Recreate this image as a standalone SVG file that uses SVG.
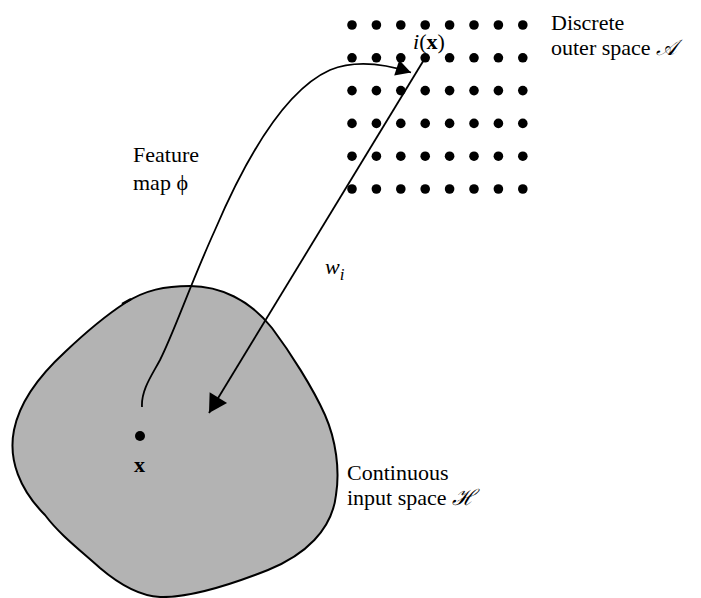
<svg xmlns="http://www.w3.org/2000/svg" width="701" height="598" viewBox="0 0 701 598">
  <style>
    .lbl { font-family: "Liberation Serif", "Times New Roman", serif; font-size: 22px; fill: #000; }
    .it { font-style: italic; }
    .bd { font-weight: bold; }
    .conn { fill: none; stroke: #000; stroke-width: 1.8; }
    .dot { fill: #000; }
  </style>
  <defs>
    <marker id="headSmall" markerUnits="userSpaceOnUse" markerWidth="20" markerHeight="20" viewBox="-14 -8 16 16" refX="0" refY="0" orient="auto">
      <path d="M0,0 L-12,-6.5 L-12,6.5 Z" fill="#000"/>
    </marker>
    <marker id="headLarge" markerUnits="userSpaceOnUse" markerWidth="24" markerHeight="24" viewBox="-17 -10 19 20" refX="0" refY="0" orient="auto">
      <path d="M0,0 L-15,-8.5 L-15,8.5 Z" fill="#000"/>
    </marker>
    <circle id="gp" r="4.8" class="dot"/>
  </defs>

  <!-- continuous input space -->
  <g id="input-space">
    <path d="M 125 303 C 145 290 165 286 190 286 C 220 286 250 300 272 328 C 290 352 313 388 325 415 C 336 440 340 470 336 495 C 332 530 305 555 268 570 C 230 585 190 598 160 597 C 140 596 120 585 100 568 C 80 550 60 535 45 515 C 20 490 8 460 14 430 C 20 400 40 375 65 352 C 85 333 105 316 125 303 Z" fill="#b3b3b3" stroke="#000" stroke-width="2"/>
    <path d="M 122 304 L 131 299" stroke="#000" stroke-width="2.4" fill="none"/>
    <circle cx="140" cy="436" r="5"/>
    <text class="lbl bd" x="134" y="472" font-size="25">x</text>
    <text class="lbl" x="347" y="480">Continuous</text>
    <text class="lbl" x="347" y="505">input space <tspan class="it">ℋ</tspan></text>
  </g>

  <!-- discrete output lattice -->
  <g id="output-space">
    <g id="lattice">
      <use href="#gp" x="352" y="25"/><use href="#gp" x="376.4" y="25"/><use href="#gp" x="400.8" y="25"/><use href="#gp" x="425.2" y="25"/><use href="#gp" x="449.6" y="25"/><use href="#gp" x="474" y="25"/><use href="#gp" x="498.4" y="25"/><use href="#gp" x="522.8" y="25"/>
      <use href="#gp" x="352" y="57.8"/><use href="#gp" x="376.4" y="57.8"/><use href="#gp" x="400.8" y="57.8"/><use href="#gp" x="425.2" y="57.8"/><use href="#gp" x="449.6" y="57.8"/><use href="#gp" x="474" y="57.8"/><use href="#gp" x="498.4" y="57.8"/><use href="#gp" x="522.8" y="57.8"/>
      <use href="#gp" x="352" y="90.6"/><use href="#gp" x="376.4" y="90.6"/><use href="#gp" x="400.8" y="90.6"/><use href="#gp" x="425.2" y="90.6"/><use href="#gp" x="449.6" y="90.6"/><use href="#gp" x="474" y="90.6"/><use href="#gp" x="498.4" y="90.6"/><use href="#gp" x="522.8" y="90.6"/>
      <use href="#gp" x="352" y="123.4"/><use href="#gp" x="376.4" y="123.4"/><use href="#gp" x="400.8" y="123.4"/><use href="#gp" x="425.2" y="123.4"/><use href="#gp" x="449.6" y="123.4"/><use href="#gp" x="474" y="123.4"/><use href="#gp" x="498.4" y="123.4"/><use href="#gp" x="522.8" y="123.4"/>
      <use href="#gp" x="352" y="156.2"/><use href="#gp" x="376.4" y="156.2"/><use href="#gp" x="400.8" y="156.2"/><use href="#gp" x="425.2" y="156.2"/><use href="#gp" x="449.6" y="156.2"/><use href="#gp" x="474" y="156.2"/><use href="#gp" x="498.4" y="156.2"/><use href="#gp" x="522.8" y="156.2"/>
      <use href="#gp" x="352" y="189"/><use href="#gp" x="376.4" y="189"/><use href="#gp" x="400.8" y="189"/><use href="#gp" x="425.2" y="189"/><use href="#gp" x="449.6" y="189"/><use href="#gp" x="474" y="189"/><use href="#gp" x="498.4" y="189"/><use href="#gp" x="522.8" y="189"/>
    </g>
    <text class="lbl" x="413" y="49"><tspan class="it">i</tspan>(<tspan class="bd">x</tspan>)</text>
    <text class="lbl" x="551" y="30">Discrete</text>
    <text class="lbl" x="551" y="55">outer space <tspan class="it">𝒜</tspan></text>
  </g>

  <!-- mappings -->
  <g id="connectors">
    <path class="conn" d="M 142 407 C 141 390 152 375 160 360 C 175 330 190 285 215 230 C 245 160 285 90 330 70 C 355 60 385 64 411 72.5" marker-end="url(#headSmall)"/>
    <path class="conn" d="M 425.2 57.8 L 209 413" marker-end="url(#headLarge)"/>
  </g>

  <g id="labels">
    <text class="lbl" x="133" y="162">Feature</text>
    <text class="lbl" x="133" y="190">map ϕ</text>
    <text class="lbl it" x="325" y="274" font-size="24">w<tspan font-size="17" dy="6">i</tspan></text>
  </g>
</svg>
